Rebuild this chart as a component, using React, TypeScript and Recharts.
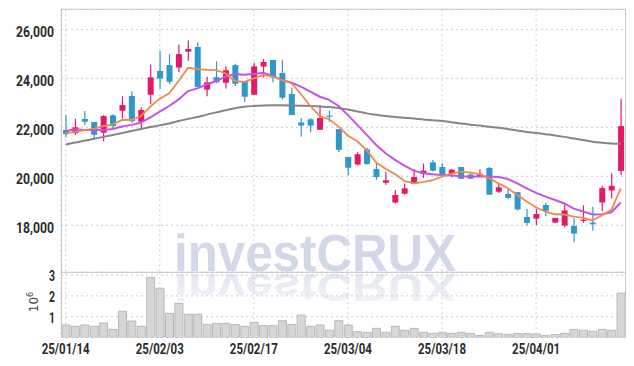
import React from "react";
import {
  Bar,
  BarChart,
  CartesianGrid,
  ComposedChart,
  Line,
  XAxis,
  YAxis,
} from "recharts";

// trading days, 2025
const dates = [
  "25/01/14", "25/01/15", "25/01/16", "25/01/17", "25/01/20", "25/01/21", "25/01/22", "25/01/23", "25/01/24", "25/01/31",
  "25/02/03", "25/02/04", "25/02/05", "25/02/06", "25/02/07", "25/02/10", "25/02/11", "25/02/12", "25/02/13", "25/02/14",
  "25/02/17", "25/02/18", "25/02/19", "25/02/20", "25/02/21", "25/02/24", "25/02/25", "25/02/26", "25/02/27", "25/02/28",
  "25/03/04", "25/03/05", "25/03/06", "25/03/07", "25/03/10", "25/03/11", "25/03/12", "25/03/13", "25/03/14", "25/03/17",
  "25/03/18", "25/03/19", "25/03/20", "25/03/21", "25/03/24", "25/03/25", "25/03/26", "25/03/27", "25/03/28", "25/03/31",
  "25/04/01", "25/04/02", "25/04/03", "25/04/04", "25/04/07", "25/04/08", "25/04/09", "25/04/10", "25/04/11", "25/04/14",
];
const xTicks = ["25/01/14", "25/02/03", "25/02/17", "25/03/04", "25/03/18", "25/04/01"];
const priceTicks = [18000, 20000, 22000, 24000, 26000];
const volumeTicks = [1000000, 2000000, 3000000];

const opens = [
  21890, 21760, 22340, 22220, 21780, 22490, 22680, 23280, 22230, 23330,
  24300, 24540, 24440, 25090, 25280, 23540, 24050, 23820, 24540, 23890,
  23330, 24480, 24750, 24220, 23360, 22200, 22330, 21900, 22480, 21930,
  20790, 20480, 21100, 20300, 19740, 18930, 19290, 19700, 20120, 20570,
  20380, 20100, 20380, 20070, 20000, 20340, 19370, 19280, 19350, 18340,
  18270, 18830, 18110, 17990, 17970, 18180, 18110, 18930, 19420, 20220,
];
const highs = [
  22490, 22350, 22670, 22220, 22490, 22530, 23270, 23470, 22820, 24570,
  25120, 24980, 25370, 25550, 25470, 24070, 24690, 24490, 24600, 23890,
  24640, 24790, 24750, 24740, 23630, 22370, 22370, 22900, 22680, 21930,
  20790, 20980, 21160, 20560, 20190, 19440, 19700, 20300, 20520, 20670,
  20530, 20300, 20380, 20200, 20290, 20380, 19710, 19500, 19350, 18670,
  18670, 18920, 18300, 18860, 18300, 18820, 18760, 19610, 20110, 23170,
];
const lows = [
  21590, 21690, 22080, 21480, 21430, 21890, 22350, 22190, 21890, 22950,
  23570, 23760, 24250, 24720, 23650, 23270, 23800, 23590, 23690, 23030,
  23330, 24040, 23840, 23140, 22500, 21620, 21800, 21900, 22230, 20980,
  20050, 20440, 20480, 19860, 19660, 18890, 19250, 19700, 19930, 20200,
  20030, 19960, 19900, 19900, 19990, 19250, 19320, 19060, 18600, 17990,
  18010, 18370, 18080, 17930, 17310, 18100, 17780, 18570, 19090, 20050,
];
const closes = [
  21720, 22000, 22230, 21700, 22460, 22050, 22910, 22250, 22710, 24040,
  23990, 23860, 24990, 25200, 23650, 23840, 23840, 24330, 23780, 23250,
  24490, 24670, 24040, 23210, 22500, 22070, 22070, 22380, 22450, 21080,
  20350, 20900, 20500, 19970, 19840, 19240, 19510, 19970, 20230, 20230,
  20040, 20270, 19900, 19900, 20100, 19250, 19550, 19120, 18650, 18100,
  18460, 18590, 18300, 18610, 17660, 18230, 18040, 19520, 19610, 22050,
];
const ma5 = [
  21760, 21810, 21890, 21950, 22050, 22120, 22300, 22310, 22460, 22850,
  23170, 23390, 23890, 24430, 24380, 24350, 24340, 24200, 23890, 23860,
  24000, 24140, 24070, 23930, 23800, 23360, 22870, 22460, 22330, 22030,
  21660, 21430, 21060, 20560, 20310, 20090, 19810, 19710, 19760, 19840,
  19990, 20110, 20190, 20150, 20090, 19920, 19710, 19510, 19240, 18970,
  18730, 18560, 18450, 18440, 18350, 18300, 18190, 18410, 18630, 19510,
];
const ma10 = [
  21850, 21920, 21890, 21890, 21890, 21930, 22030, 22100, 22190, 22410,
  22640, 22870, 23140, 23480, 23590, 23760, 23890, 24070, 24180, 24150,
  24180, 24230, 24100, 23930, 23820, 23660, 23460, 23250, 23120, 22870,
  22500, 22100, 21690, 21280, 20940, 20670, 20440, 20230, 20120, 20080,
  20050, 20030, 20000, 19990, 19990, 19990, 19970, 19890, 19710, 19510,
  19320, 19170, 19030, 18890, 18680, 18560, 18440, 18450, 18530, 18930,
];
const ma60 = [
  21300, 21380, 21450, 21530, 21610, 21690, 21770, 21850, 21930, 22010,
  22080, 22160, 22260, 22340, 22420, 22520, 22610, 22700, 22780, 22840,
  22870, 22890, 22900, 22900, 22890, 22880, 22870, 22850, 22830, 22790,
  22730, 22650, 22570, 22510, 22460, 22420, 22390, 22360, 22320, 22290,
  22260, 22210, 22160, 22110, 22070, 22020, 21980, 21930, 21870, 21810,
  21770, 21720, 21670, 21610, 21540, 21480, 21410, 21370, 21340, 21330,
];
const volumes = [
  600000, 540000, 600000, 540000, 700000, 390000, 1260000, 790000, 540000, 2890000,
  2370000, 1160000, 1640000, 1120000, 1120000, 630000, 680000, 680000, 630000, 540000,
  730000, 570000, 570000, 810000, 630000, 1080000, 540000, 600000, 350000, 810000,
  600000, 280000, 250000, 440000, 250000, 540000, 350000, 440000, 250000, 200000,
  250000, 200000, 250000, 200000, 100000, 250000, 180000, 150000, 190000, 190000,
  170000, 90000, 140000, 200000, 390000, 350000, 300000, 390000, 350000, 2130000,
];

const rows = dates.map((date, i) => ({
  date,
  open: opens[i],
  high: highs[i],
  low: lows[i],
  close: closes[i],
  ma5: ma5[i],
  ma10: ma10[i],
  ma60: ma60[i],
  volume: volumes[i],
}));

const FONT = "Roboto, 'Liberation Sans', sans-serif";
const UP = "#e21a6c";
const DOWN = "#2f97c9";
const GRID = "#c8cbe0";
const TEXT = "#2a2a2a";

function Candle(props: any) {
  const { x, y, width, height, payload } = props;
  if (x == null || !payload) return null;
  const { open, close, high, low } = payload;
  const top = Math.min(y, y + height);
  const h = Math.abs(height);
  const ratio = high !== low ? h / (high - low) : 0;
  const yOf = (v: number) => top + (high - v) * ratio;
  const color = close >= open ? UP : DOWN;
  const cx = x + width / 2;
  const bodyTop = yOf(Math.max(open, close));
  const bodyH = Math.max(Math.abs(yOf(open) - yOf(close)), 1.2);
  return (
    <g>
      <line x1={cx} x2={cx} y1={top} y2={top + h} stroke={color} strokeWidth={1.2} />
      <rect x={cx - 3} y={bodyTop} width={6} height={bodyH} fill={color} />
    </g>
  );
}

// narrow digits: squeeze the label to the width used in the original
function PriceTick({ x, y, payload }: any) {
  return (
    <text
      x={x}
      y={y + 8}
      textAnchor="end"
      fontFamily={FONT}
      fontWeight={700}
      fontSize={15}
      fill={TEXT}
      textLength={38}
      lengthAdjust="spacingAndGlyphs"
    >
      {payload.value.toLocaleString("en-US")}
    </text>
  );
}

function VolumeTick({ x, y, payload }: any) {
  return (
    <text
      x={x}
      y={y + 5.8}
      textAnchor="end"
      fontFamily={FONT}
      fontWeight={700}
      fontSize={14}
      fill={TEXT}
      textLength={6}
      lengthAdjust="spacingAndGlyphs"
    >
      {payload.value / 1000000}
    </text>
  );
}

function DateTick({ x, y, payload }: any) {
  return (
    <text
      x={x}
      y={y + 10.7}
      textAnchor="middle"
      fontFamily={FONT}
      fontWeight={700}
      fontSize={15}
      fill={TEXT}
      textLength={48}
      lengthAdjust="spacingAndGlyphs"
    >
      {payload.value}
    </text>
  );
}

export default function App() {
  return (
    <div style={{ position: "absolute", left: 0, top: 0, width: 634, height: 366, background: "#fff" }}>
      <div style={{ position: "absolute", left: 0, top: 0 }}>
        <ComposedChart
          width={634}
          height={280}
          data={rows}
          margin={{ top: 9.3, right: 8.5, bottom: 7.7, left: 0 }}
        >
          <CartesianGrid stroke={GRID} strokeDasharray="2 3" />
          <XAxis dataKey="date" hide ticks={xTicks} interval={0} />
          <YAxis
            domain={[16080, 26820]}
            ticks={priceTicks}
            interval={0}
            allowDataOverflow
            width={61}
            axisLine={false}
            tickLine={false}
            tickSize={0}
            tickMargin={7}
            tick={<PriceTick />}
          />
          <Bar
            dataKey={(d: any) => [d.low, d.high]}
            shape={<Candle />}
            barSize={6}
            isAnimationActive={false}
          />
          <Line type="monotone" dataKey="ma60" stroke="#858585" strokeWidth={2} dot={false} isAnimationActive={false} />
          <Line type="linear" dataKey="ma10" stroke="#c552e6" strokeWidth={2} dot={false} isAnimationActive={false} />
          <Line type="linear" dataKey="ma5" stroke="#ef8a4c" strokeWidth={1.8} dot={false} isAnimationActive={false} />
        </ComposedChart>
      </div>
      <div style={{ position: "absolute", left: 0, top: 0 }}>
        <BarChart
          width={634}
          height={366}
          data={rows}
          margin={{ top: 272.3, right: 8.5, bottom: 0, left: 0 }}
        >
          <CartesianGrid stroke={GRID} strokeDasharray="2 3" />
          <XAxis
            dataKey="date"
            ticks={xTicks}
            interval={0}
            height={28.5}
            axisLine={false}
            tickLine={false}
            tickSize={0}
            tickMargin={6}
            tick={<DateTick />}
          />
          <YAxis
            domain={[0, 3135000]}
            ticks={volumeTicks}
            interval={0}
            allowDataOverflow
            width={61}
            axisLine={false}
            tickLine={false}
            tickSize={0}
            tickMargin={6}
            tick={<VolumeTick />}
          />
          <Bar dataKey="volume" fill="#d6d6d6" stroke="#b8b8b8" barSize={8} isAnimationActive={false} />
        </BarChart>
      </div>
      <svg
        width={634}
        height={366}
        style={{ position: "absolute", left: 0, top: 0, pointerEvents: "none" }}
      >
        <defs>
          <linearGradient id="mirror" x1="0" y1="0" x2="0" y2="1">
            <stop offset="0%" stopColor="#c3cbe3" stopOpacity={0.2} />
            <stop offset="100%" stopColor="#c3cbe3" stopOpacity={0.55} />
          </linearGradient>
        </defs>
        <g fill="none" stroke="#c6c6c6" strokeWidth={1}>
          <line x1={61} x2={626} y1={9.3} y2={9.3} />
          <line x1={61} x2={626} y1={272.3} y2={272.3} />
          <line x1={61.5} x2={61.5} y1={9} y2={337.5} />
          <line x1={625.5} x2={625.5} y1={9} y2={337.5} />
        </g>
        <text
          x={315}
          y={270.5}
          textAnchor="middle"
          fontFamily="'Liberation Sans', Arial, sans-serif"
          fontWeight="bold"
          fontSize={51}
          textLength={282}
          lengthAdjust="spacingAndGlyphs"
          fill="#c3cbe3"
          fillOpacity={0.75}
        >
          investCRUX
        </text>
        <g transform="translate(0 476.6) scale(1 -0.75)">
          <text
            x={315}
            y={270.5}
            textAnchor="middle"
            fontFamily="'Liberation Sans', Arial, sans-serif"
            fontWeight="bold"
            fontSize={51}
            textLength={282}
            lengthAdjust="spacingAndGlyphs"
            fill="url(#mirror)"
          >
            investCRUX
          </text>
        </g>
        <text
          transform="rotate(-90 38 302)"
          x={38}
          y={302}
          textAnchor="middle"
          fontFamily="'DejaVu Sans', sans-serif"
          fontSize={12}
          fill="#444"
        >
          10<tspan dy={-5} fontSize={8}>6</tspan>
        </text>
      </svg>
    </div>
  );
}
